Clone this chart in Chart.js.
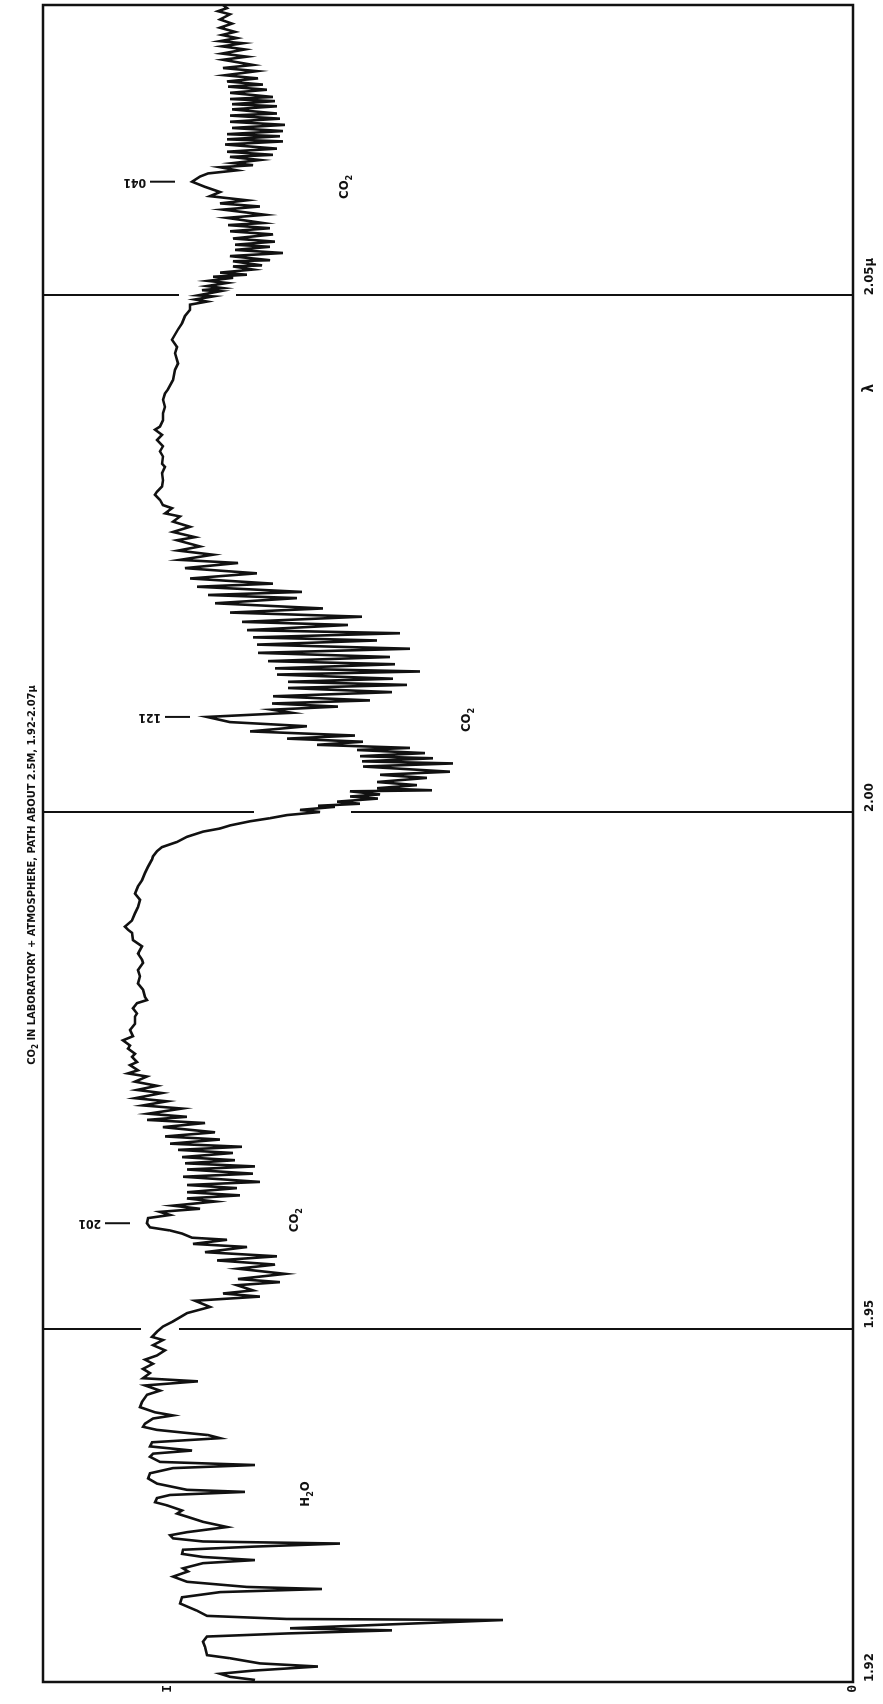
<!DOCTYPE html>
<html>
<head>
<meta charset="utf-8">
<title>CO2 in laboratory + atmosphere, 1.92-2.07 micron</title>
<script src="https://cdn.jsdelivr.net/npm/chart.js@4.4.1/dist/chart.umd.min.js"></script>
<style>
  html, body { margin: 0; padding: 0; background: #fff; overflow: hidden; }
  body { width: 883px; height: 1704px; position: relative; }
  /* the plot is drawn landscape and turned a quarter turn, like the printed page */
  #sheet {
    position: absolute; left: 0; top: 0;
    width: 1704px; height: 883px;
    transform-origin: 0 0;
    transform: translate(0, 1704px) rotate(-90deg);
  }
</style>
</head>
<body>
<div id="sheet"><canvas id="spectrum" width="1704" height="883"></canvas></div>
<script>
// Recorder trace, [wavelength (micron), intensity (chart units, I level = 68.5)]
const band041 = [
  [2.0781,63.0],[2.0778,62.6],[2.0775,63.5],[2.0772,62.3],[2.0767,63.3],[2.0763,62.1],[2.0759,63.3],[2.0755,61.8],
  [2.0752,63.1],[2.0749,61.6],[2.0746,63.3],[2.0744,61.0],[2.0741,63.1],[2.0738,60.8],[2.0734,63.1],[2.0731,60.6],
  [2.0728,63.0],[2.0723,60.0],[2.0720,63.0],[2.0717,59.6],[2.0713,62.8],[2.0710,59.5],[2.0707,62.6],[2.0704,59.0],
  [2.0702,62.5],[2.0699,58.6],[2.0696,62.3],[2.0692,58.0],[2.0690,62.3],[2.0688,57.8],[2.0685,62.1],[2.0683,57.6],
  [2.0680,62.1],[2.0676,57.6],[2.0674,62.3],[2.0671,57.3],[2.0668,62.3],[2.0665,56.8],[2.0662,62.1],[2.0659,57.0],
  [2.0656,62.6],[2.0654,57.3],[2.0651,62.6],[2.0649,57.0],[2.0646,62.8],[2.0642,57.6],[2.0639,62.6],[2.0636,58.0],
  [2.0634,62.3],[2.0631,59.3],[2.0628,62.0],[2.0626,60.0],[2.0624,63.3],[2.0621,61.6],[2.0618,64.5],[2.0615,65.3],
  [2.0610,66.1],[2.0605,64.8],[2.0600,63.3],[2.0596,64.3],[2.0592,60.6],[2.0589,63.3],[2.0586,59.3],[2.0583,63.0],
  [2.0578,58.8],[2.0575,62.6],[2.0570,59.0],[2.0568,62.5],[2.0565,58.3],[2.0562,62.3],[2.0559,58.0],[2.0555,62.0],
  [2.0552,57.8],[2.0549,61.8],[2.0547,58.3],[2.0544,61.8],[2.0541,57.0],[2.0538,62.3],[2.0534,58.3],[2.0533,62.0],
  [2.0529,59.1],[2.0528,62.0],[2.0525,60.0],[2.0522,63.3],[2.0520,60.6],[2.0518,64.0],[2.0517,62.0],[2.0514,64.5],
  [2.0512,62.6],[2.0509,64.6],[2.0507,63.0],[2.0505,65.1],[2.0504,63.3],[2.0500,65.5],[2.0499,64.0],[2.0496,65.8],
  [2.0494,64.6],[2.0491,66.3]
];
const shoulder204 = [
  [2.0486,66.3],[2.0480,66.8],[2.0473,67.1],[2.0467,67.5],[2.0457,68.1],[2.0450,67.6],[2.0444,67.8],[2.0434,67.5],
  [2.0428,67.8],[2.0418,68.0],[2.0409,68.5],[2.0405,68.8],[2.0399,69.0],[2.0392,68.8],[2.0386,69.0],[2.0379,69.0],
  [2.0373,69.3],[2.0370,69.8],[2.0365,69.1],[2.0360,69.6],[2.0354,69.0],[2.0349,69.3],[2.0344,69.0],[2.0337,69.1],
  [2.0334,68.8],[2.0328,69.1],[2.0321,69.0],[2.0315,69.1],[2.0310,69.6],[2.0307,69.8],[2.0302,69.3],[2.0297,69.0]
];
const band121 = [
  [2.0294,68.1],[2.0289,68.8],[2.0286,67.3],[2.0281,68.0],[2.0276,66.3],[2.0271,68.0],[2.0266,65.8],[2.0263,67.6],
  [2.0257,65.3],[2.0253,67.5],[2.0249,64.0],[2.0244,67.3],[2.0241,61.5],[2.0236,66.8],[2.0231,59.6],[2.0226,66.3],
  [2.0221,58.0],[2.0218,65.6],[2.0213,55.1],[2.0210,64.5],[2.0207,55.6],[2.0202,63.8],[2.0197,53.0],[2.0193,62.3],
  [2.0189,49.1],[2.0184,61.1],[2.0181,50.5],[2.0176,60.6],[2.0173,45.3],[2.0169,60.0],[2.0166,47.6],[2.0162,59.6],
  [2.0158,44.3],[2.0154,59.5],[2.0150,46.3],[2.0146,58.5],[2.0143,45.8],[2.0139,57.8],[2.0136,43.3],[2.0133,57.6],
  [2.0129,46.0],[2.0126,56.5],[2.0123,44.6],[2.0120,56.5],[2.0116,46.1],[2.0112,58.0],[2.0108,48.3],[2.0105,58.1],
  [2.0102,51.5],[2.0099,58.1],[2.0096,56.1],[2.0092,64.6],[2.0087,62.3],[2.0083,54.6],[2.0078,60.3],[2.0074,49.8],
  [2.0071,56.6],[2.0068,49.0],[2.0065,53.6],[2.0062,44.3],[2.0060,49.6],[2.0057,42.8],[2.0054,49.3],[2.0052,42.0],
  [2.0049,49.1],[2.0047,40.0],[2.0044,49.0],[2.0039,40.3],[2.0036,47.3],[2.0033,42.6],[2.0029,47.6],[2.0026,43.6],
  [2.0023,47.6],[2.0021,42.1],[2.0020,50.3],[2.0017,47.3],[2.0015,50.3],[2.0013,47.5],[2.0010,51.6],[2.0008,49.3],
  [2.0006,53.5],[2.0005,51.8],[2.0002,55.3],[2.0000,53.3],[1.9997,56.6]
];
const continuum198 = [
  [1.9994,58.3],[1.9991,60.3],[1.9987,62.3],[1.9984,63.3],[1.9981,65.0],[1.9976,66.6],[1.9971,67.6],[1.9966,69.1],
  [1.9962,69.6],[1.9957,70.0],[1.9954,70.1],[1.9947,70.5],[1.9941,70.8],[1.9934,71.1],[1.9928,71.5],[1.9921,71.8],
  [1.9915,71.3],[1.9908,71.5],[1.9902,71.8],[1.9895,72.1],[1.9889,72.8],[1.9886,72.5],[1.9883,72.1],[1.9876,72.0],
  [1.9870,71.1],[1.9863,71.5],[1.9857,71.1],[1.9854,71.0],[1.9847,71.5],[1.9841,71.3],[1.9834,71.5],[1.9828,71.0],
  [1.9821,70.8],[1.9818,70.6],[1.9815,71.6],[1.9810,72.0],[1.9805,71.6],[1.9802,71.8],[1.9795,71.8],[1.9789,72.3],
  [1.9783,72.0],[1.9779,73.0],[1.9774,72.3],[1.9771,72.5],[1.9766,71.8],[1.9763,72.1],[1.9758,71.6],[1.9755,72.3],
  [1.9750,71.5],[1.9747,72.5]
];
const band201 = [
  [1.9744,70.6],[1.9739,71.8],[1.9735,69.6],[1.9731,71.6],[1.9728,69.1],[1.9723,71.8],[1.9720,68.6],[1.9716,71.0],
  [1.9713,67.1],[1.9708,70.5],[1.9705,66.6],[1.9702,70.6],[1.9699,64.8],[1.9695,69.0],[1.9690,63.8],[1.9686,68.8],
  [1.9683,63.3],[1.9679,68.3],[1.9676,61.1],[1.9673,67.5],[1.9670,62.0],[1.9666,67.1],[1.9663,61.8],[1.9660,66.8],
  [1.9657,59.8],[1.9654,66.6],[1.9650,60.0],[1.9647,67.0],[1.9642,59.3],[1.9639,66.6],[1.9636,61.6],[1.9632,66.6],
  [1.9629,61.3],[1.9626,66.6],[1.9623,63.8],[1.9619,68.0],[1.9616,65.3],[1.9613,69.3],[1.9610,68.3],[1.9607,70.5],
  [1.9602,70.6],[1.9598,70.3],[1.9595,68.3],[1.9592,67.1],[1.9588,66.1],[1.9586,62.6],[1.9582,66.0],[1.9579,60.6],
  [1.9574,64.8],[1.9570,57.6],[1.9566,63.6],[1.9562,57.8],[1.9558,61.5],[1.9553,56.8],[1.9548,61.5],[1.9545,57.3],
  [1.9542,61.6],[1.9537,60.0],[1.9534,63.0],[1.9531,59.3],[1.9527,65.8],[1.9521,64.3],[1.9515,66.6],[1.9507,68.0],
  [1.9502,69.0],[1.9497,69.6],[1.9492,70.1]
];
const waterLines = [
  [1.9489,69.0],[1.9484,70.0],[1.9479,68.8],[1.9474,69.6],[1.9470,70.8],[1.9466,70.0],[1.9461,71.0],[1.9457,70.3],
  [1.9452,71.0],[1.9449,65.5],[1.9445,70.8],[1.9440,69.3],[1.9436,70.6],[1.9429,71.1],[1.9424,71.3],[1.9419,69.8],
  [1.9416,68.0],[1.9413,70.0],[1.9408,70.8],[1.9405,71.0],[1.9402,69.6],[1.9399,66.6],[1.9397,64.5],[1.9394,63.3],
  [1.9390,70.1],[1.9386,70.3],[1.9382,66.1],[1.9379,70.0],[1.9376,70.3],[1.9371,69.3],[1.9368,59.8],[1.9365,68.0],
  [1.9360,70.3],[1.9355,70.5],[1.9350,69.6],[1.9344,66.6],[1.9342,60.8],[1.9339,68.3],[1.9336,69.6],[1.9332,69.8],
  [1.9329,68.6],[1.9324,67.1],[1.9321,67.6],[1.9318,66.6],[1.9313,65.0],[1.9308,62.6],[1.9305,65.0],[1.9303,66.6],
  [1.9300,68.3],[1.9297,68.0],[1.9294,65.0],[1.9292,51.3],[1.9289,60.0],[1.9286,67.0],[1.9282,67.1],[1.9279,65.0],
  [1.9276,59.8],[1.9273,65.0],[1.9268,67.0],[1.9265,66.5],[1.9260,68.0],[1.9255,66.6],[1.9250,60.6],[1.9248,53.1],
  [1.9245,63.3],[1.9240,67.1],[1.9234,67.3],[1.9227,65.6],[1.9222,64.6],[1.9219,56.6],[1.9218,35.0],[1.9213,48.3],
  [1.9210,56.3],[1.9208,46.1],[1.9205,56.6],[1.9202,64.6],[1.9197,65.0],[1.9192,64.8],[1.9184,64.6],[1.9181,62.3],
  [1.9176,59.3],[1.9173,53.5],[1.9169,60.0],[1.9166,63.3],[1.9163,62.3],[1.9160,59.8]
];

// wavelength axis
const tickWavelengths = [1.9158, 1.95, 2.00, 2.05];
const tickLabels = ['1.92', '1.95', '2.00', '2.05\u03bc'];
const markerWavelengths = [1.95, 2.00, 2.05];
const axisSymbol = '\u03bb';
const axisSymbolAt = 2.041;

// intensity axis
const intensityTicks = [0, 68.5];
const intensityLabels = ['0', 'I'];

// band heads marked on the trace
const bandNames = ['041', '121', '201'];
const bandHeads = [2.0610, 2.0092, 1.9602];

// species written on the plot
const speciesNames = ['CO2', 'CO2', 'CO2', 'H2O'];
const speciesWavelengths = [2.0605, 2.0089, 1.9605, 1.9340];
const speciesLevels = [50.8, 38.6, 55.8, 54.7];

const titleParts = [['CO', 0], ['2', 1], [' IN LABORATORY + ATMOSPHERE, PATH ABOUT 2.5M, 1.92-2.07', 0], ['\u03bc', 0]];
const titleCentre = 1.9939;

const trace = [].concat(band041, shoulder204, band121, continuum198, band201, waterLines);

const INK = '#111';
const FONT = "'Liberation Sans Narrow', 'DejaVu Sans Condensed', 'Liberation Sans', sans-serif";

function drawParts(ctx, parts, x, y, size, align) {
  const big = 'bold ' + size + 'px ' + FONT;
  const small = 'bold ' + Math.round(size * 0.72) + 'px ' + FONT;
  let total = 0;
  parts.forEach(p => { ctx.font = p[1] ? small : big; total += ctx.measureText(p[0]).width; });
  let cx = align === 'center' ? x - total / 2 : x;
  ctx.textAlign = 'left';
  ctx.textBaseline = 'middle';
  parts.forEach(p => {
    ctx.font = p[1] ? small : big;
    ctx.fillText(p[0], cx, y + (p[1] ? size * 0.32 : 0));
    cx += ctx.measureText(p[0]).width;
  });
}

// digits in a formula are subscripts
function formulaParts(name) {
  return name.split(/(\d+)/).filter(s => s.length).map(s => [s, /\d/.test(s) ? 1 : 0]);
}

function levelAt(w) {
  let best = trace[0];
  trace.forEach(p => { if (Math.abs(p[0] - w) < Math.abs(best[0] - w)) best = p; });
  return best[1];
}

const spectrumDecor = {
  id: 'spectrumDecor',
  afterDatasetsDraw(chart) {
    const { ctx, chartArea: a, scales: { x, y } } = chart;
    ctx.save();
    ctx.strokeStyle = INK;
    ctx.fillStyle = INK;

    // wavelength marker lines, broken where they cross the trace
    ctx.lineWidth = 2;
    markerWavelengths.forEach(w => {
      const px = Math.round(x.getPixelForValue(w));
      const near = trace.filter(p => Math.abs(p[0] - w) <= 0.0007).map(p => p[1]);
      const gapTop = y.getPixelForValue(Math.max(...near) + 1.6);
      const gapBottom = y.getPixelForValue(Math.min(...near) - 1.6);
      ctx.beginPath();
      ctx.moveTo(px, a.top);
      ctx.lineTo(px, gapTop);
      ctx.moveTo(px, gapBottom);
      ctx.lineTo(px, a.bottom);
      ctx.stroke();
    });

    // frame
    ctx.lineWidth = 2.5;
    ctx.strokeRect(a.left, a.top, a.right - a.left, a.bottom - a.top);

    // band-head labels with their leader dashes
    bandNames.forEach((name, i) => {
      const px = x.getPixelForValue(bandHeads[i]);
      const lvl = levelAt(bandHeads[i]);
      ctx.lineWidth = 2;
      ctx.beginPath();
      ctx.moveTo(px, y.getPixelForValue(lvl + 1.7));
      ctx.lineTo(px, y.getPixelForValue(lvl + 4.2));
      ctx.stroke();
      ctx.save();
      ctx.translate(px, y.getPixelForValue(lvl + 4.6));
      ctx.rotate(-Math.PI / 2);
      ctx.font = 'bold 12px ' + FONT;
      ctx.textAlign = 'left';
      ctx.textBaseline = 'middle';
      ctx.fillText(name, 0, 0);
      ctx.restore();
    });

    // species
    speciesNames.forEach((name, i) => {
      drawParts(ctx, formulaParts(name), x.getPixelForValue(speciesWavelengths[i]),
        y.getPixelForValue(speciesLevels[i]), 13, 'center');
    });

    // title
    drawParts(ctx, titleParts, x.getPixelForValue(titleCentre), 32, 11, 'center');

    // lambda beside the wavelength ticks
    ctx.font = 'bold 15px ' + FONT;
    ctx.textAlign = 'center';
    ctx.textBaseline = 'middle';
    ctx.fillText(axisSymbol, x.getPixelForValue(axisSymbolAt), a.bottom + 16);

    ctx.restore();
  }
};

new Chart(document.getElementById('spectrum'), {
  type: 'line',
  data: {
    datasets: [{
      data: trace.map(p => ({ x: p[0], y: p[1] })),
      borderColor: INK,
      borderWidth: 2.6,
      pointRadius: 0,
      tension: 0,
      fill: false
    }]
  },
  options: {
    responsive: false,
    animation: false,
    devicePixelRatio: 1,
    layout: { padding: { top: 43, right: 5, bottom: 0, left: 0 } },
    plugins: {
      legend: { display: false },
      tooltip: { enabled: false },
      title: { display: false }
    },
    scales: {
      x: {
        type: 'linear',
        min: 1.9158,
        max: 2.0781,
        afterBuildTicks: s => { s.ticks = tickWavelengths.map(v => ({ value: v })); },
        afterFit: s => { s.height = 30; s.paddingLeft = 0; s.paddingRight = 0; },
        grid: { display: false, drawTicks: false },
        border: { display: false },
        ticks: {
          autoSkip: false,
          maxRotation: 0,
          align: 'start',
          padding: 9,
          color: INK,
          font: { family: FONT, size: 13, weight: 'bold' },
          callback: (v, i) => tickLabels[i]
        }
      },
      y: {
        type: 'linear',
        min: 0,
        max: 81,
        afterBuildTicks: s => { s.ticks = intensityTicks.map(v => ({ value: v })); },
        afterFit: s => { s.width = 22; s.paddingTop = 0; s.paddingBottom = 0; },
        grid: { display: false, drawTicks: false },
        border: { display: false },
        ticks: {
          padding: 3,
          color: INK,
          font: { family: "'DejaVu Sans Mono', monospace", size: 13, weight: 'bold' },
          callback: (v, i) => intensityLabels[i]
        }
      }
    }
  },
  plugins: [spectrumDecor]
});
</script>
</body>
</html>
